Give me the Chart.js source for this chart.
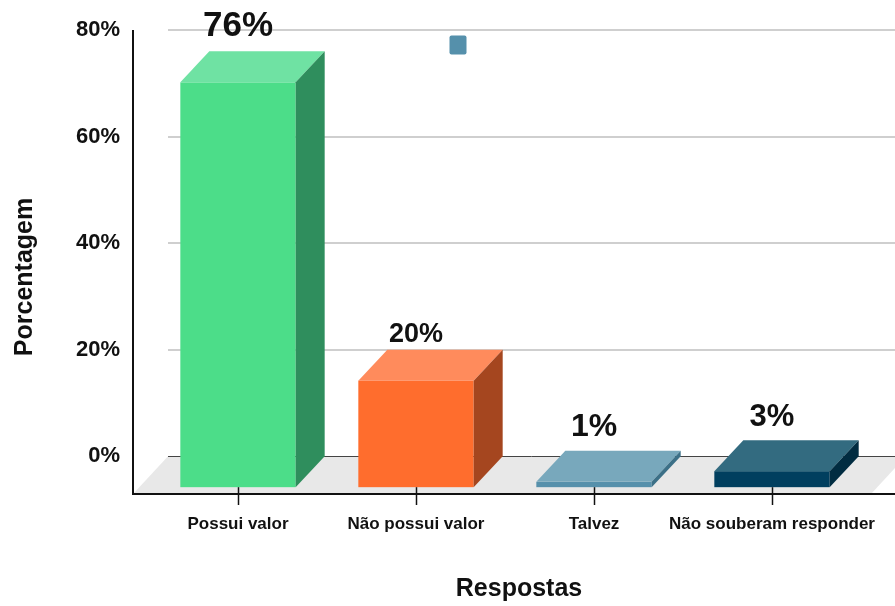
<!DOCTYPE html>
<html lang="pt">
<head>
<meta charset="utf-8">
<title>Respostas</title>
<script src="https://cdn.jsdelivr.net/npm/chart.js@4/dist/chart.umd.min.js"></script>
<style>
  html, body { margin: 0; padding: 0; background: #fff; }
  canvas { display: block; }
</style>
</head>
<body>
<canvas id="chart" width="895" height="606"></canvas>
<script>
// ── Data ───────────────────────────────────────────────────────────

const CATEGORIES = ['Possui valor', 'Não possui valor', 'Talvez', 'Não souberam responder'];
const PERCENTAGES = [76, 20, 1, 3];
const Y_TICKS = [0, 20, 40, 60, 80];

// ── Look ───────────────────────────────────────────────────────────

const FRONT = ['#4cdd89', '#ff6d2d', '#5690ab', '#013f5f'];
const TOP   = ['#6fe2a3', '#ff8b5c', '#78a8bc', '#336b80'];
const SIDE  = ['#2f8e5d', '#a5461f', '#3c7087', '#012c41'];
const LABEL_SIZE = [35, 27, 32, 31];
const LABEL_LIFT = [15, 8, 15, 14];
const LEGEND_COLOR = '#5590ab';

const FONT = '"Liberation Sans", Arial, sans-serif';
const BAR_DEPTH = { x: 29, y: 31 };
const FLOOR_DX = 35;
const AXIS_GAP = 16;   // y axis line sits this far left of the plot area

Chart.defaults.font.family = FONT;
Chart.defaults.color = '#111';

function poly(ctx, pts, fill) {
  ctx.beginPath();
  ctx.moveTo(pts[0][0], pts[0][1]);
  for (let i = 1; i < pts.length; i++) ctx.lineTo(pts[i][0], pts[i][1]);
  ctx.closePath();
  ctx.fillStyle = fill;
  ctx.fill();
}

function line(ctx, x0, y0, x1, y1) {
  ctx.beginPath();
  ctx.moveTo(x0, y0);
  ctx.lineTo(x1, y1);
  ctx.stroke();
}

// ── 3D plugin: back wall grid, floor, boxes, labels ────────────────

const box3d = {
  id: 'box3d',

  beforeDraw(chart) {
    const { ctx, chartArea: a, scales: { y } } = chart;
    const axisX = a.left - AXIS_GAP;
    const backY = y.getPixelForValue(0);
    ctx.save();

    ctx.strokeStyle = '#cfcfcf';
    ctx.lineWidth = 2;
    y.ticks.forEach(t => {
      if (t.value === 0) return;
      const py = Math.round(y.getPixelForValue(t.value));
      line(ctx, axisX + FLOOR_DX, py, chart.width, py);
    });

    poly(ctx, [
      [axisX, a.bottom], [axisX + FLOOR_DX, backY],
      [a.right + 10 + FLOOR_DX, backY], [a.right + 10, a.bottom],
    ], '#e8e8e8');

    ctx.strokeStyle = '#444';
    ctx.lineWidth = 1;
    line(ctx, axisX + FLOOR_DX, Math.round(backY) + 0.5, chart.width, Math.round(backY) + 0.5);
    ctx.restore();
  },

  // the flat bars are replaced by boxes below
  beforeDatasetDraw() { return false; },

  afterDatasetsDraw(chart) {
    const { ctx, scales: { y } } = chart;
    const meta = chart.getDatasetMeta(0);
    const dx = BAR_DEPTH.x, dy = BAR_DEPTH.y;
    const base = y.getPixelForValue(0) + dy;
    ctx.save();
    meta.data.forEach((el, i) => {
      const x0 = el.x - el.width / 2;
      const x1 = el.x + el.width / 2;
      const top = y.getPixelForValue(PERCENTAGES[i]) + dy;
      ctx.fillStyle = FRONT[i];
      ctx.fillRect(x0, top, x1 - x0, base - top);
      poly(ctx, [[x0, top], [x0 + dx, top - dy], [x1 + dx, top - dy], [x1, top]], TOP[i]);
      poly(ctx, [[x1, top], [x1 + dx, top - dy], [x1 + dx, base - dy], [x1, base]], SIDE[i]);
    });

    // category tick marks, from the box front down past the axis
    ctx.strokeStyle = '#111';
    ctx.lineWidth = 1.5;
    meta.data.forEach(el => line(ctx, Math.round(el.x) + 0.5, base, Math.round(el.x) + 0.5, chart.chartArea.bottom + 11));
    ctx.restore();
  },

  afterDraw(chart) {
    const { ctx, chartArea: a, scales: { y } } = chart;
    const meta = chart.getDatasetMeta(0);
    const axisX = a.left - AXIS_GAP;
    ctx.save();

    // axis lines
    ctx.strokeStyle = '#111';
    ctx.lineWidth = 2;
    line(ctx, axisX, a.top, axisX, a.bottom + 1);
    line(ctx, axisX, a.bottom, chart.width, a.bottom);

    // value labels above each box
    ctx.fillStyle = '#111';
    ctx.textAlign = 'center';
    ctx.textBaseline = 'alphabetic';
    meta.data.forEach((el, i) => {
      ctx.font = `bold ${LABEL_SIZE[i]}px ${FONT}`;
      const py = y.getPixelForValue(PERCENTAGES[i]) - LABEL_LIFT[i];
      ctx.fillText(PERCENTAGES[i] + '%', el.x, py);
    });

    // legend marker (series has no name)
    ctx.fillStyle = LEGEND_COLOR;
    ctx.beginPath();
    ctx.roundRect(449.5, 35.5, 17, 19, 2);
    ctx.fill();

    // axis titles
    ctx.fillStyle = '#111';
    ctx.font = `bold 25px ${FONT}`;
    ctx.textBaseline = 'middle';
    ctx.fillText('Respostas', 519, 589);
    ctx.translate(25, 277);
    ctx.rotate(-Math.PI / 2);
    ctx.fillText('Porcentagem', 0, 0);
    ctx.restore();
  },
};

// ── Chart ──────────────────────────────────────────────────────────

new Chart(document.getElementById('chart'), {
  type: 'bar',
  data: {
    labels: CATEGORIES,
    datasets: [{
      label: '',
      data: PERCENTAGES,
      backgroundColor: FRONT,
      categoryPercentage: 0.8,
      barPercentage: 0.81,
    }],
  },
  options: {
    responsive: false,
    animation: false,
    layout: { padding: { top: 30, right: 34, left: 0, bottom: 0 } },
    plugins: {
      legend: { display: false },
      tooltip: { enabled: false },
    },
    scales: {
      x: {
        offset: true,
        grid: { display: false, drawTicks: false },
        border: { display: false },
        ticks: {
          autoSkip: false,
          padding: 20,
          font: { size: 17, weight: 'bold' },
          color: '#111',
          maxRotation: 0,
        },
        afterFit: s => { s.height = 112; s.paddingLeft = 0; s.paddingRight = 0; },
      },
      y: {
        min: -7.1,   // room below zero for the floor depth
        max: 80,
        grid: { display: false, drawTicks: false },
        border: { display: false },
        afterBuildTicks: s => { s.ticks = Y_TICKS.map(v => ({ value: v })); },
        ticks: {
          padding: 29,
          font: { size: 22, weight: 'bold' },
          color: '#111',
          callback: v => v + '%',
        },
        afterFit: s => { s.width = 149; s.paddingTop = 0; s.paddingBottom = 0; },
      },
    },
  },
  plugins: [box3d],
});
</script>
</body>
</html>
